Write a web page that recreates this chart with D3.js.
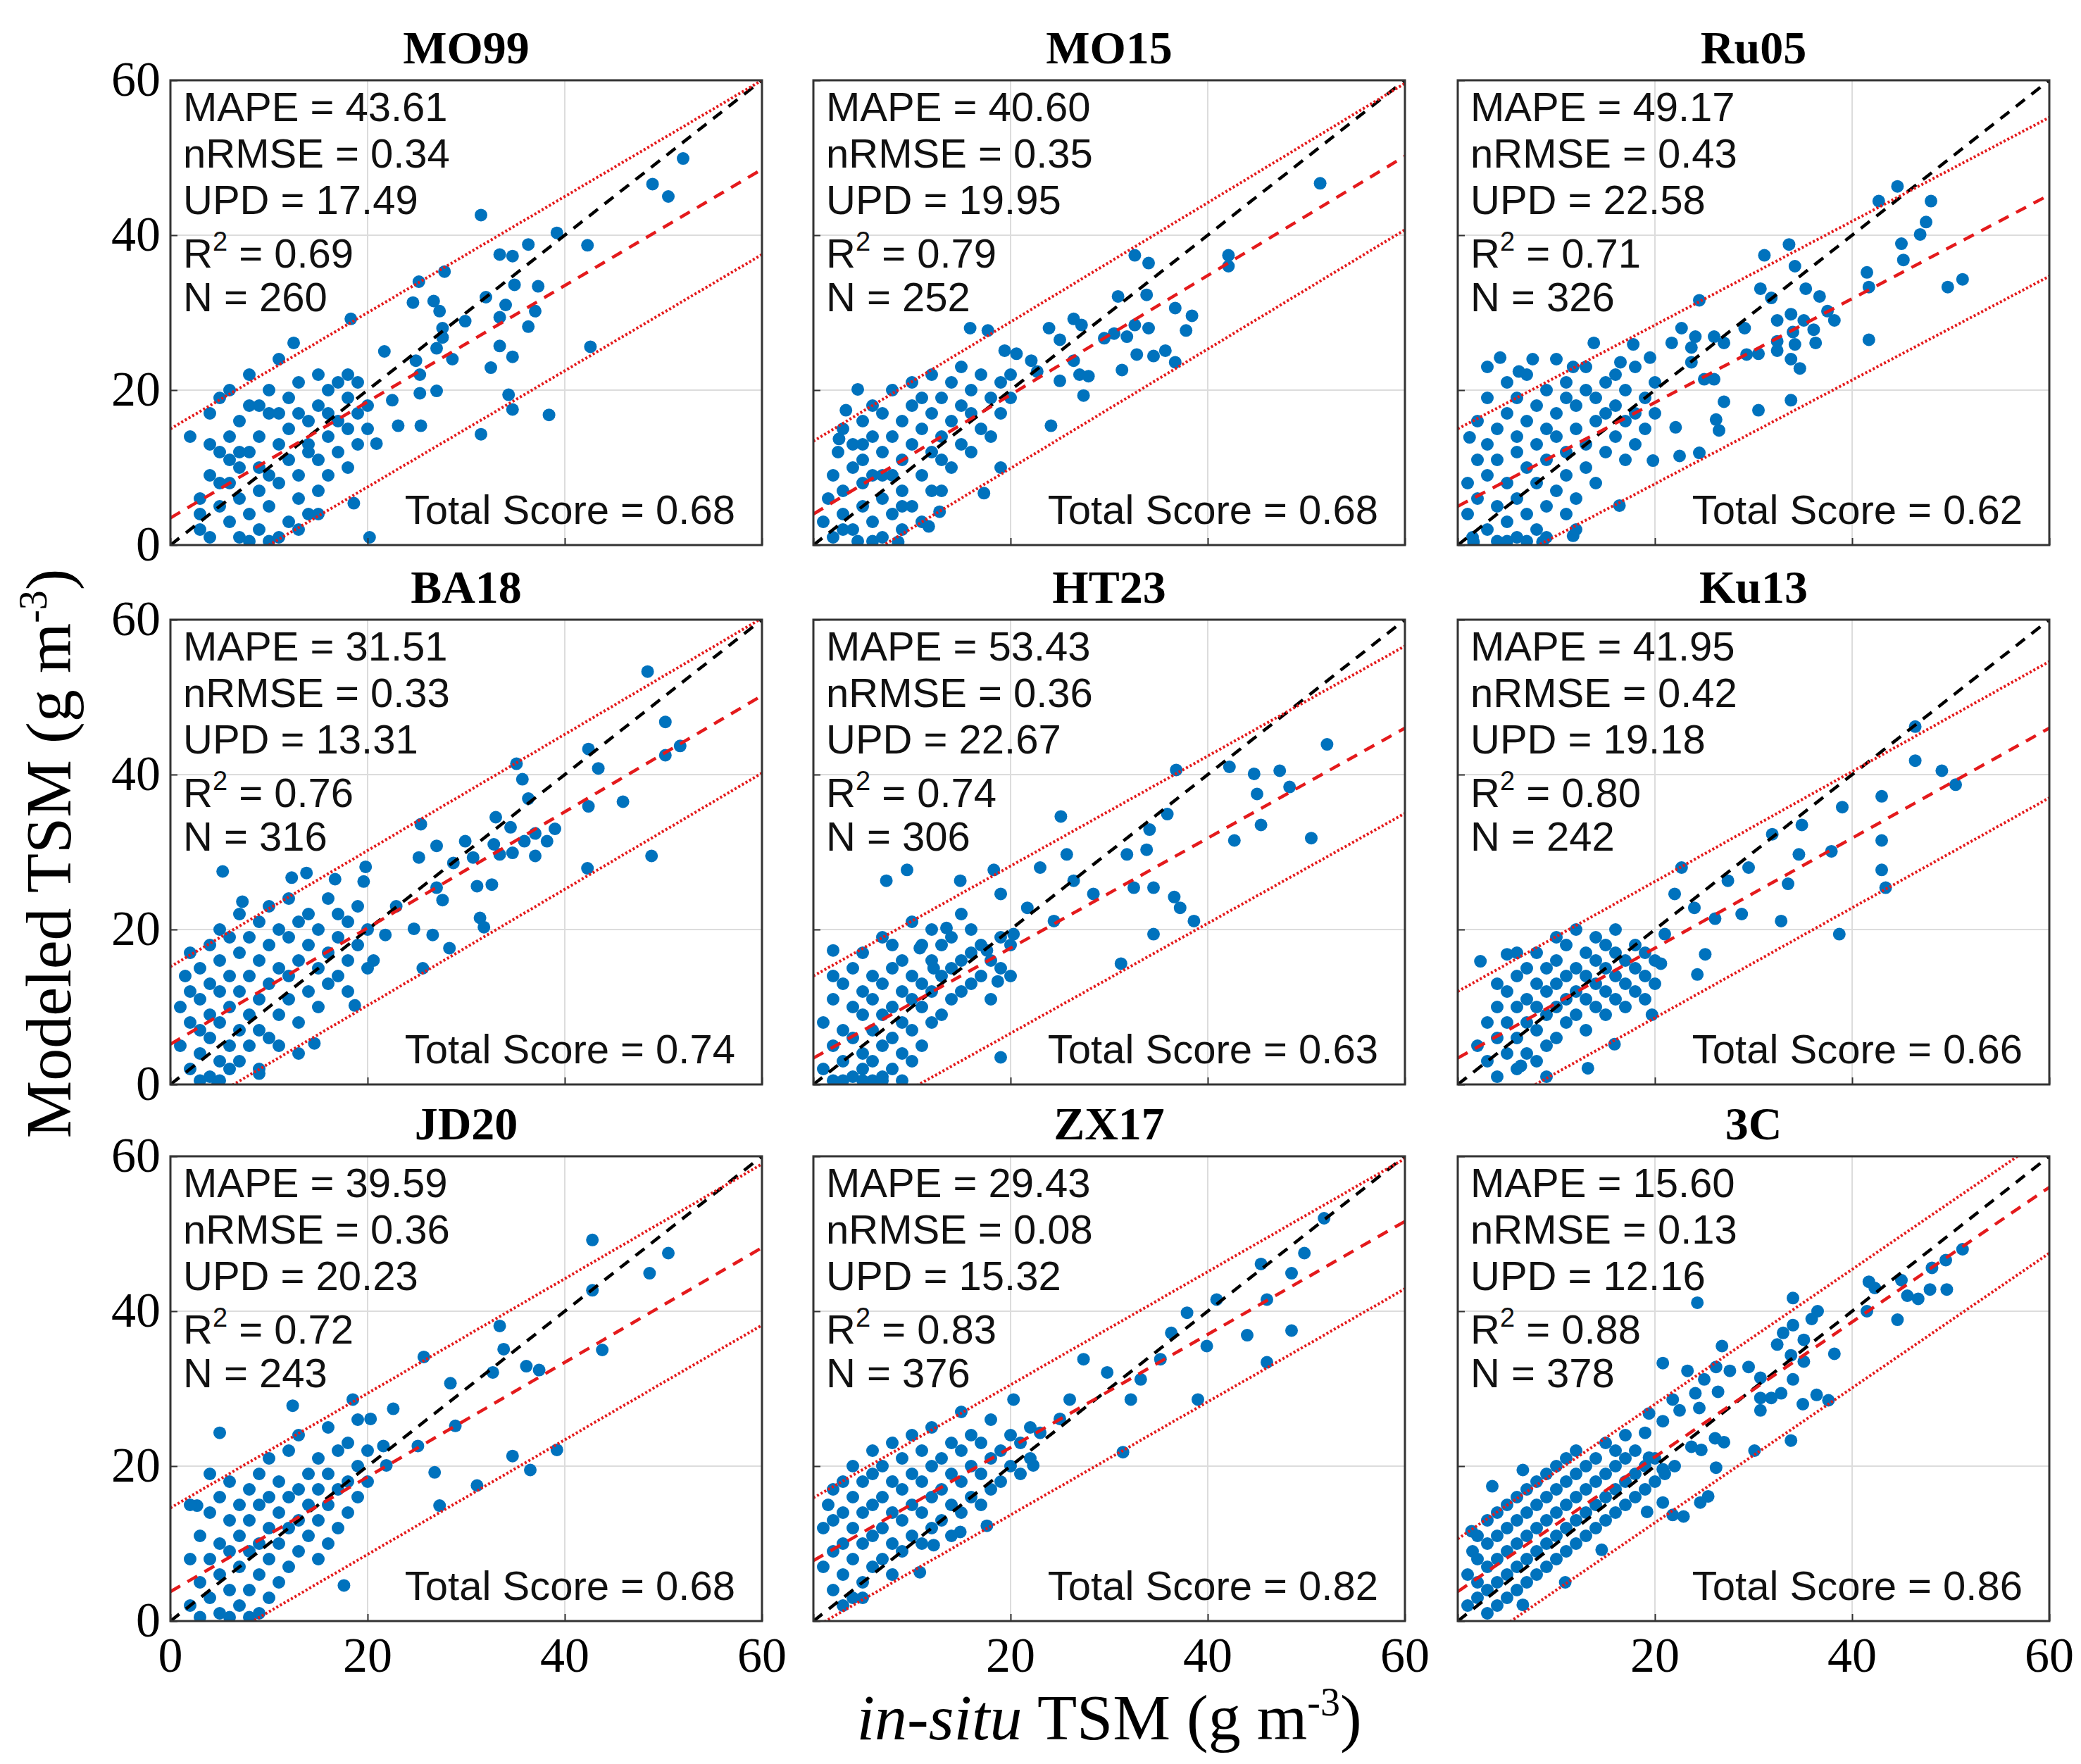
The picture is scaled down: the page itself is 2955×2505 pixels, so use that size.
<!DOCTYPE html>
<html><head><meta charset="utf-8">
<script src="https://cdn.jsdelivr.net/npm/d3@7"></script>
<style>body{margin:0;background:#fff}</style>
</head><body>
<script>
const titles = ["MO99","MO15","Ru05","BA18","HT23","Ku13","JD20","ZX17","3C"];
const mape = ["43.61","40.60","49.17","31.51","53.43","41.95","39.59","29.43","15.60"];
const nrmse = ["0.34","0.35","0.43","0.33","0.36","0.42","0.36","0.08","0.13"];
const upd = ["17.49","19.95","22.58","13.31","22.67","19.18","20.23","15.32","12.16"];
const r2 = ["0.69","0.79","0.71","0.76","0.74","0.80","0.72","0.83","0.88"];
const nCount = ["260","252","326","316","306","242","243","376","378"];
const totalScore = ["0.68","0.68","0.62","0.74","0.63","0.66","0.68","0.82","0.86"];
const fitSlope = [0.75,0.77,0.67,0.75,0.71,0.71,0.74,0.73,0.87];
const fitIntercept = [3.5,4,5,5.2,3.4,3.4,3.8,7.8,3.8];
const bandUp = [11.5,9.4,10,10,10.6,8.6,10.8,8.1,6.8];
const bandLow = [-11,-9.5,-10.5,-10,-11,-9,-10,-8.7,-8.5];
const xTickValues = [0,20,40,60];
const yTickValues = [0,20,40,60];

const pts_MO99 = [[31.5,42.6],[52,49.9],[48.9,46.6],[50.5,45],[39.2,40.3],[42.3,38.7],[36.3,38.8],[33.4,37.5],[34.7,37.3],[27.8,35.3],[25.2,34],[34.9,33.6],[37.3,33.4],[32,32],[24.6,31.3],[26.7,31.5],[34,31],[27.3,30.2],[37,30.2],[18.3,29.2],[29.9,28.9],[33.4,29.4],[36.3,28.2],[27.6,28],[27.6,26.8],[27,25.4],[33.4,25.7],[42.6,25.6],[28.6,24],[34.7,24.3],[21.7,25],[24.9,23.8],[32.5,22.9],[25.3,22],[34.3,19.4],[34.7,17.5],[38.4,16.8],[27,19.9],[25.3,19.6],[22.5,18.7],[23.1,15.4],[25.4,15.4],[31.5,14.3],[20.9,13.1],[20.2,1],[18.6,5.4],[12.5,26.1],
[2,14],[3,2],[3,6],[4,9],[4,17],[4,1],[5,5],[5,12],[5,19],[6,3],[6,8],[6,14],[6,20],[7,1],[7,6],[7,10],[7,16],[8,4],[8,12],[8,18],[8,22],[9,2],[9,7],[9,14],[9,10],[10,5],[10,9],[10,17],[10,20],[11,1],[11,8],[11,13],[11,24],[12,3],[12,11],[12,15],[12,19],[13,6],[13,9],[13,21],[13,17],[14,4],[14,12],[14,16],[14,13],[15,7],[15,18],[15,22],[15,11],[16,14],[16,20],[16,9],[16,17],[17,12],[17,21],[17,16],[18,15],[18,19],[18,22],[18,10],[19,17],[19,13],[19,21],[20,18],[20,15],[10,0.5],[13,2],[8,0.5],[15,4],[3,4],[5,8],[7,12],[9,18],[11,17],[6,11],[4,13]];
const pts_MO15 = [[51.4,46.7],[42.1,37.4],[42.1,36],[32.6,37.4],[34,36.4],[33.8,32.3],[30.9,32.1],[36.7,30.6],[38.4,29.6],[37.8,27.7],[32.6,28.4],[34,28],[31.8,26.9],[29.5,26.7],[30.5,27.3],[35.7,25.1],[34.5,24.4],[36.7,23.6],[32.8,24.6],[31.3,22.6],[26.4,29.2],[27.2,28.4],[23.9,28],[25,26.5],[26.4,23.8],[27,22],[27.9,21.8],[25,21.2],[27.4,19.3],[24.1,15.4],[22.7,22.4],[19.4,25.1],[17.7,27.7],[15.9,28],[20.6,24.7],[22.1,23.8],[19,10],[17.3,6.7],[12.8,4.3],[11.7,2.4],[4.5,20.1],[3.3,17.4],[2.6,13.7],[8.6,0.4],
[1,3],[1.5,6],[2,1],[2,9],[2.5,12],[3,4],[3,7],[3,15],[4,2],[4,10],[4,13],[4.5,0.5],[5,5],[5,8],[5,11],[5,16],[6,3],[6,9],[6,14],[6,18],[7,1],[7,6],[7,12],[7,17],[8,4],[8,9],[8,14],[8,20],[9,2],[9,7],[9,11],[9,16],[10,5],[10,13],[10,18],[10,21],[11,9],[11,15],[11,19],[12,7],[12,12],[12,17],[12,22],[13,11],[13,14],[13,19],[14,10],[14,16],[14,21],[15,13],[15,18],[15,23],[16,12],[16,20],[16,17],[17,15],[17,22],[18,19],[18,14],[19,21],[19,17],[20,22],[20,19],[6,0.5],[3,2],[9,5],[11,3],[13,7],[7,9],[5,13]];
const pts_Ru05 = [[44.6,46.3],[42.7,44.4],[48,44.4],[47.5,41.7],[46.9,40.1],[45,38.9],[45.2,36.8],[41.5,35.2],[41.7,33.3],[49.7,33.3],[51.2,34.3],[41.7,26.5],[31.1,37.4],[33.6,38.8],[34.2,36],[30.7,33.1],[31.8,31.9],[35.3,33.1],[36.7,32.1],[33.8,29.8],[37.5,30.2],[38.2,29],[35.1,29],[32.4,29],[36.1,27.8],[34,27.5],[36.3,26.1],[32.4,26.3],[34.2,25.9],[32.4,25.1],[30.5,24.7],[29.3,24.6],[33.8,24],[34.7,22.8],[29.1,28],[27,26.1],[24.5,31.6],[24.1,26.9],[26,26.9],[21.7,26.1],[22.7,28],[23.7,25.5],[23.7,23.6],[25,21.4],[26,21.4],[27,18.5],[26.2,16.2],[26.5,14.8],[30.5,17.4],[33.8,18.7],[22.1,15.2],[22.5,11.5],[24.5,11.9],[19.8,10.9],[16.4,5.1],[13.8,26.1],[17.8,25.9],[19.5,24.2],[16.5,23.6],[11.7,23],[4.3,24.2],[7.6,24],[6.2,22.4],[11.7,1.2],[8.6,0.4],[1.6,0.4],[1.2,13.9],
[1,4],[1,8],[1.5,1],[2,6],[2,11],[2,16],[3,2],[3,9],[3,13],[3,19],[4,0.5],[4,5],[4,11],[4,15],[5,3],[5,8],[5,17],[5,21],[6,1],[6,6],[6,12],[6,14],[6,19],[7,4],[7,10],[7,16],[7,22],[8,2],[8,8],[8,13],[8,18],[9,5],[9,11],[9,15],[9,20],[10,7],[10,14],[10,17],[10,24],[11,9],[11,12],[11,19],[11,21],[12,6],[12,15],[12,18],[13,10],[13,13],[13,20],[13,23],[14,8],[14,16],[14,19],[15,12],[15,17],[15,21],[16,14],[16,18],[16,22],[17,11],[17,16],[17,20],[18,13],[18,17],[18,23],[19,15],[19,19],[20,17],[20,21],[9,1],[7,0.5],[11,4],[3,23],[5,0.5],[12,2]];
const pts_BA18 = [[48.4,53.3],[50.2,46.8],[51.7,43.7],[50.2,42.5],[42.4,43.3],[43.4,40.8],[45.9,36.5],[42.4,35.9],[48.8,29.5],[42.3,27.9],[35.1,41.4],[35.7,39.4],[36.3,36.9],[33,34.5],[34.5,33.2],[37,32.4],[39,33],[35.9,31.4],[38.2,31.4],[37,29.5],[34.7,29.9],[32.8,31],[33.4,29.7],[30.7,29.3],[29.9,31.4],[28.7,28.6],[27,30.8],[25.4,33.6],[25.2,29.3],[27,25.4],[27.6,23.8],[31.1,25.6],[32.6,25.8],[31.4,21.5],[31.8,20.3],[26.6,19.3],[24.7,20.1],[28.3,17.6],[25.6,15],[22.9,23],[19.8,28.1],[19.6,26.2],[16.7,26.5],[13.8,27.3],[12.3,26.7],[5.3,27.5],[7.3,23.6],[20.6,16],[21.8,19.3],[18.7,10.2],[14.6,5.3],[9,1.4],[4.8,0.2],
[1,5],[1,10],[1.5,14],[2,2],[2,8],[2,12],[2,17],[3,0.5],[3,4],[3,7],[3,11],[3,15],[4,1],[4,6],[4,9],[4,13],[4,18],[5,0.5],[5,3],[5,8],[5,12],[5,16],[5,20],[6,2],[6,5],[6,10],[6,14],[6,19],[7,3],[7,7],[7,12],[7,17],[7,22],[8,5],[8,9],[8,14],[8,19],[9,7],[9,11],[9,16],[9,21],[10,6],[10,13],[10,18],[10,23],[11,9],[11,15],[11,20],[12,11],[12,14],[12,19],[12,24],[13,8],[13,16],[13,21],[14,12],[14,18],[14,22],[15,10],[15,15],[15,20],[16,13],[16,17],[16,24],[17,14],[17,19],[17,22],[18,12],[18,16],[18,21],[19,18],[19,23],[20,15],[20,20],[11,5],[13,4],[9,2]];
const pts_HT23 = [[52.1,43.9],[50.5,31.8],[36.8,40.6],[42.2,41],[44.7,40.1],[47.3,40.5],[45,37.5],[48.3,38.4],[42.7,31.5],[45.4,33.5],[35.9,34.9],[34.1,32.9],[33.8,30.3],[31.8,29.7],[32.5,25.4],[34.5,25.4],[36.6,24.2],[37.2,22.8],[38.6,21.1],[34.5,19.4],[31.2,15.6],[25.1,34.6],[25.7,29.7],[26.4,26.3],[28.4,24.6],[23,28],[24.4,21.1],[21.7,22.8],[19,24.6],[18.3,27.7],[20.3,19.4],[17.6,17.3],[18.7,13.3],[13.5,20.2],[10.8,17.6],[14.9,26.3],[7.4,26.3],[9.5,27.7],[2,17.3],[19,3.5],[12.2,15],
[1,2],[1,8],[2,0.5],[2,5],[2,11],[2,14],[3,3],[3,7],[3,13],[4,1],[4,6],[4,10],[4,15],[5,2],[5,4],[5,9],[5,12],[5,17],[6,0.5],[6,3],[6,7],[6,11],[6,14],[7,1],[7,5],[7,9],[7,13],[7,19],[8,2],[8,6],[8,10],[8,15],[8,18],[9,0.5],[9,4],[9,8],[9,12],[9,16],[10,3],[10,7],[10,11],[10,14],[10,21],[11,5],[11,10],[11,13],[11,18],[12,8],[12,12],[12,16],[12,20],[13,9],[13,14],[13,18],[14,11],[14,15],[14,19],[15,12],[15,16],[15,22],[16,13],[16,17],[16,20],[17,14],[17,18],[18,11],[18,16],[19,15],[19,19],[20,14],[20,18],[3,0.5],[7,0.5],[5,0.5]];
const pts_Ku13 = [[46.4,46.2],[46.4,41.8],[49.1,40.5],[50.5,38.7],[43,37.2],[43,31.5],[43,27.7],[43.4,25.4],[39,35.8],[34.6,29.7],[34.9,33.5],[31.9,32.3],[37.9,30.1],[38.7,19.4],[33.5,25.9],[32.8,21.1],[29.5,28],[28.8,22],[27.4,26.3],[26.1,21.4],[24,22.8],[22.7,28],[22,24.6],[21,19.4],[25.1,16.8],[24.3,14.2],[20.6,15.6],[19.7,9],[15.9,5.2],[13.2,2.1],[6.4,2.4],[2.3,15.9],[5,16.8],
[3,3],[3,8],[4,1],[4,6],[4,10],[5,4],[5,8],[5,12],[6,2],[6,6],[6,10],[6,14],[7,4],[7,8],[7,11],[7,15],[8,3],[8,7],[8,10],[8,13],[8,17],[9,5],[9,9],[9,12],[9,15],[10,6],[10,10],[10,13],[10,16],[10,19],[11,8],[11,11],[11,14],[11,18],[12,9],[12,12],[12,15],[12,20],[13,7],[13,11],[13,14],[13,17],[14,10],[14,13],[14,16],[14,19],[15,9],[15,12],[15,15],[15,18],[16,11],[16,14],[16,17],[16,20],[17,10],[17,13],[17,16],[18,12],[18,15],[18,18],[19,11],[19,14],[19,17],[20,13],[20,16],[2,5],[4,13],[6,17],[9,1]];
const pts_JD20 = [[42.8,49.2],[50.5,47.5],[48.6,44.9],[42.8,42.7],[43.8,35],[39.2,22.1],[36.5,19.5],[34.7,21.3],[33.4,38.1],[33.8,35.1],[36.1,32.9],[37.4,32.4],[32.7,32.1],[28.4,30.7],[28.9,25.2],[25.7,34.1],[22.6,27.4],[25.1,22.6],[26.8,19.2],[27.3,14.9],[31.1,17.5],[21.9,20.1],[21.6,22.6],[18.5,28.6],[20.3,26.1],[17.6,4.6],[12.4,27.8],[5,24.3],[2.7,14.9],
[2,2],[2,8],[2,15],[3,0.5],[3,5],[3,11],[4,3],[4,8],[4,14],[4,19],[5,1],[5,6],[5,10],[5,16],[6,0.5],[6,4],[6,9],[6,13],[6,18],[7,2],[7,7],[7,11],[7,15],[8,4],[8,9],[8,13],[8,17],[9,1],[9,6],[9,10],[9,15],[9,19],[10,3],[10,8],[10,12],[10,16],[10,21],[11,5],[11,10],[11,14],[11,18],[12,7],[12,12],[12,16],[12,22],[13,9],[13,13],[13,17],[13,24],[14,11],[14,15],[14,19],[15,8],[15,13],[15,17],[15,21],[16,10],[16,15],[16,19],[16,25],[17,12],[17,17],[17,22],[18,14],[18,18],[18,23],[19,16],[19,20],[19,26],[20,18],[20,22],[8,0.5]];
const pts_ZX17 = [[51.8,52],[49.8,47.5],[45.4,46.1],[48.5,44.9],[46,41.5],[48.5,37.5],[46,33.4],[40.9,41.5],[39.9,35.5],[44,36.9],[37.9,39.8],[36.3,37.2],[35.2,33.8],[39,28.6],[33.2,31.2],[32.2,28.6],[29.8,32.1],[27.4,33.8],[26,28.6],[31.4,21.8],[25,26.1],[23,24.3],[20.3,28.6],[22.3,20.1],[17.6,12.3],[14.9,11.5],[12.2,9.8],[10.8,6.3],
[1,7],[1,12],[1.5,15],[2,4],[2,9],[2,13],[2,17],[3,6],[3,10],[3,14],[3,18],[4,3],[4,8],[4,12],[4,16],[4,20],[5,5],[5,10],[5,14],[5,18],[6,7],[6,11],[6,15],[6,19],[6,22],[7,8],[7,12],[7,16],[7,20],[8,6],[8,10],[8,14],[8,18],[8,23],[9,9],[9,13],[9,17],[9,21],[10,11],[10,15],[10,19],[10,24],[11,10],[11,14],[11,18],[11,22],[12,12],[12,16],[12,20],[12,25],[13,13],[13,17],[13,21],[14,11],[14,15],[14,19],[14,23],[15,14],[15,18],[15,22],[15,27],[16,16],[16,20],[16,24],[17,15],[17,19],[17,23],[18,17],[18,21],[18,26],[19,18],[19,22],[20,20],[20,24],[21,19],[21,23],[22,21],[22,25],[3,2],[5,3]];
const pts_3C = [[51.2,48],[49.5,46.6],[48.1,45.6],[47.9,42.8],[49.6,42.8],[46.7,41.6],[45.6,42],[45,44],[41.7,43.8],[42.3,43],[41.5,40],[44.6,38.9],[34,41.7],[24.3,41.1],[36.5,40],[35.9,39],[34,38.2],[33,37.2],[32.4,35.7],[38.2,34.5],[35.1,36.3],[33.8,34.3],[35.1,33.5],[34,31.2],[32.8,29.4],[30.7,31.4],[29.5,32.8],[27.6,32.3],[26.2,32.8],[26.8,35.5],[23.3,32.3],[20.8,33.3],[25,31.2],[26.4,29.6],[30.7,28.8],[31.8,28.8],[35,28],[36.4,29.2],[37.6,28.5],[30.7,27.2],[33.8,23.3],[30.1,22],[26.1,23.6],[27,23.1],[24.7,22.1],[23.7,22.5],[26.2,19.8],[25.4,16.1],[24.6,15.3],[20.8,15.3],[21.8,13.7],[22.9,13.5],[19.2,14.1],[20.8,19.6],[19.4,21.1],[21.8,28.6],[22.5,27.2],[19.4,26.8],[20.8,25.8],[19,24.3],[24.1,29.4],[24.5,27.5],[14.6,9.2],[10.9,5],[6.6,2.1],[3.5,17.4],[6.6,19.5],[1.4,11.6],
[1,2],[1,6],[1.5,9],[2,3],[2,5],[2,8],[2,11],[3,1],[3,4],[3,7],[3,10],[3,13],[4,2],[4,5],[4,8],[4,11],[4,14],[5,3],[5,6],[5,9],[5,12],[5,15],[6,4],[6,7],[6,10],[6,13],[6,16],[7,5],[7,8],[7,11],[7,14],[7,17],[8,6],[8,9],[8,12],[8,15],[8,18],[9,7],[9,10],[9,13],[9,16],[9,19],[10,8],[10,11],[10,14],[10,17],[10,20],[11,9],[11,12],[11,15],[11,18],[11,21],[12,10],[12,13],[12,16],[12,19],[12,22],[13,11],[13,14],[13,17],[13,20],[14,12],[14,15],[14,18],[14,21],[15,13],[15,16],[15,19],[15,23],[16,14],[16,17],[16,20],[16,22],[17,15],[17,18],[17,21],[17,24],[18,16],[18,19],[18,22],[19,17],[19,20],[20,18],[20,21],[21,19],[22,20]];
const allPoints = [pts_MO99,pts_MO15,pts_Ru05,pts_BA18,pts_HT23,pts_Ku13,pts_JD20,pts_ZX17,pts_3C];

const W = 2955, H = 2505;
const colX = [242,1155,2070], colW = 840;
const rowY = [114,880,1642], rowH = 660;
const svg = d3.select("body").append("svg").attr("width",W).attr("height",H);
const serif = "'Liberation Serif','Times New Roman',serif";
const sans = "'Liberation Sans',Arial,sans-serif";
const red = "#e41a1c", blue = "#0072BD";

titles.forEach((t,i)=>{
  const c=i%3, r=Math.floor(i/3);
  const x = d3.scaleLinear().domain([0,60]).range([colX[c],colX[c]+colW]);
  const y = d3.scaleLinear().domain([0,60]).range([rowY[r]+rowH,rowY[r]]);
  const g = svg.append("g");
  const cid = "clip"+i;
  svg.append("clipPath").attr("id",cid).append("rect")
    .attr("x",x(0)).attr("y",y(60)).attr("width",colW).attr("height",rowH);
  [20,40].forEach(v=>{
    g.append("line").attr("x1",x(v)).attr("x2",x(v)).attr("y1",y(0)).attr("y2",y(60)).attr("stroke","#dcdcdc").attr("stroke-width",2);
    g.append("line").attr("y1",y(v)).attr("y2",y(v)).attr("x1",x(0)).attr("x2",x(60)).attr("stroke","#dcdcdc").attr("stroke-width",2);
  });
  const cg = g.append("g").attr("clip-path",`url(#${cid})`);
  cg.selectAll("circle").data(allPoints[i]).join("circle")
    .attr("cx",d=>x(d[0])).attr("cy",d=>y(d[1])).attr("r",9).attr("fill",blue);
  const line = (a,b,col,dash,wd)=>cg.append("line")
    .attr("x1",x(0)).attr("y1",y(b)).attr("x2",x(60)).attr("y2",y(a*60+b))
    .attr("stroke",col).attr("stroke-width",wd).attr("stroke-dasharray",dash);
  line(1,0,"#000","16,12",4.5);
  line(fitSlope[i],fitIntercept[i],red,"16,12",4.5);
  line(fitSlope[i],fitIntercept[i]+bandUp[i],red,"3,3",4);
  line(fitSlope[i],fitIntercept[i]+bandLow[i],red,"3,3",4);
  g.append("rect").attr("x",x(0)).attr("y",y(60)).attr("width",colW).attr("height",rowH)
    .attr("fill","none").attr("stroke","#333").attr("stroke-width",3);
  const ax = d3.axisBottom(x).tickValues(xTickValues).tickSize(-10).tickFormat("");
  g.append("g").attr("transform",`translate(0,${y(0)})`).call(ax).call(s=>{s.select(".domain").remove();s.selectAll("line").attr("stroke","#333").attr("stroke-width",2);});
  const ay = d3.axisLeft(y).tickValues(yTickValues).tickSize(-10).tickFormat("");
  g.append("g").attr("transform",`translate(${x(0)},0)`).call(ay).call(s=>{s.select(".domain").remove();s.selectAll("line").attr("stroke","#333").attr("stroke-width",2);});
  g.append("text").attr("x",x(30)).attr("y",y(60)-24).attr("text-anchor","middle")
    .attr("font-family",serif).attr("font-weight","bold").attr("font-size",66).text(t);
  const tx = x(0)+18, ty0 = y(60)+58, ls = 66, fs = 58;
  const st = g.append("g").attr("font-family",sans).attr("font-size",fs).attr("fill","#111");
  st.append("text").attr("x",tx).attr("y",ty0).text(`MAPE = ${mape[i]}`);
  st.append("text").attr("x",tx).attr("y",ty0+ls).text(`nRMSE = ${nrmse[i]}`);
  st.append("text").attr("x",tx).attr("y",ty0+2*ls).text(`UPD = ${upd[i]}`);
  const rt = st.append("text").attr("x",tx).attr("y",ty0+3*ls+10);
  rt.append("tspan").text("R");
  rt.append("tspan").attr("dy",-24).attr("font-size",38).text("2");
  rt.append("tspan").attr("dy",24).text(` = ${r2[i]}`);
  st.append("text").attr("x",tx).attr("y",ty0+4*ls+6).text(`N = ${nCount[i]}`);
  st.append("text").attr("x",x(60)-38).attr("y",y(0)-30).attr("text-anchor","end").text(`Total Score = ${totalScore[i]}`);
  if(c===0){
    yTickValues.forEach(v=>g.append("text").attr("x",x(0)-14).attr("y",y(v)+22).attr("text-anchor","end")
      .attr("font-family",serif).attr("font-size",70).text(v));
  }
  if(r===2){
    xTickValues.filter(v=>c===0||v>0).forEach(v=>g.append("text").attr("x",x(v)).attr("y",y(0)+72).attr("text-anchor","middle")
      .attr("font-family",serif).attr("font-size",70).text(v));
  }
});
const yl = svg.append("text").attr("transform","translate(100,1212) rotate(-90)").attr("text-anchor","middle")
  .attr("font-family",serif).attr("font-size",92);
yl.append("tspan").text("Modeled TSM (g m");
yl.append("tspan").attr("dy",-34).attr("font-size",56).text("-3");
yl.append("tspan").attr("dy",34).text(")");
const xl = svg.append("text").attr("x",1575).attr("y",2470).attr("text-anchor","middle")
  .attr("font-family",serif).attr("font-size",92);
xl.append("tspan").attr("font-style","italic").text("in-situ");
xl.append("tspan").text(" TSM (g m");
xl.append("tspan").attr("dy",-34).attr("font-size",56).text("-3");
xl.append("tspan").attr("dy",34).text(")");
</script>
</body></html>
